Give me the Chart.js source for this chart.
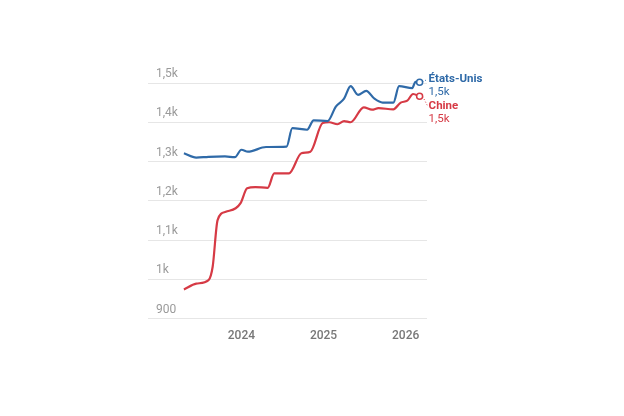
<!DOCTYPE html>
<html>
<head>
<meta charset="utf-8">
<script src="https://cdn.jsdelivr.net/npm/chart.js@4"></script>
<style>
  body { margin: 0; background: #fff; }
  #wrap { width: 624px; height: 416px; }
</style>
</head>
<body>
<div id="wrap"><canvas id="chart" width="624" height="416"></canvas></div>
<script>
// dates as decimal years
var usX = [2023.30, 2023.45, 2023.6, 2023.8, 2023.92, 2024.0, 2024.08, 2024.3, 2024.55, 2024.62, 2024.8, 2024.88, 2025.05, 2025.15, 2025.25, 2025.33, 2025.42, 2025.52, 2025.62, 2025.72, 2025.85, 2025.92, 2026.08, 2026.12, 2026.17];
var usY = [1321, 1310, 1312, 1313, 1311, 1330, 1325, 1337, 1338, 1385, 1381, 1405, 1403, 1440, 1460, 1492, 1470, 1480, 1460, 1450, 1450, 1492, 1487, 1503, 1502];
var cnX = [2023.30, 2023.45, 2023.6, 2023.65, 2023.71, 2023.81, 2023.93, 2023.99, 2024.07, 2024.17, 2024.32, 2024.4, 2024.58, 2024.73, 2024.84, 2024.99, 2025.07, 2025.17, 2025.25, 2025.33, 2025.49, 2025.59, 2025.67, 2025.85, 2025.94, 2026.02, 2026.09, 2026.17];
var cnY = [974, 989, 998, 1032, 1151, 1172, 1181, 1194, 1232, 1235, 1233, 1270, 1270, 1321, 1325, 1398, 1400, 1395, 1403, 1400, 1438, 1432, 1436, 1433, 1450, 1455, 1472, 1466];
var yTicks = [900, 1000, 1100, 1200, 1300, 1400, 1500];
var yTickLabels = ["900", "1k", "1,1k", "1,2k", "1,3k", "1,4k", "1,5k"];
var xTicks = [2024, 2025, 2026];

var blue = '#2f6aa8';
var red = '#d63a45';

function pts(xs, ys) {
  return xs.map(function (x, i) { return { x: x, y: ys[i] }; });
}

// y labels above the gridlines, end labels next to the last point
var labelPlugin = {
  id: 'labels',
  afterDatasetsDraw: function (chart) {
    var ctx = chart.ctx;
    var ys = chart.scales.y;
    var area = chart.chartArea;
    ctx.save();
    ctx.font = '12px Roboto';
    ctx.fillStyle = '#9a9a9a';
    ctx.textAlign = 'left';
    ctx.textBaseline = 'bottom';
    yTicks.forEach(function (v, i) {
      ctx.fillText(yTickLabels[i], area.left, ys.getPixelForValue(v) - 3);
    });

    var ends = [
      { ds: 0, name: 'États-Unis', val: '1,5k', color: blue, ty: 79 },
      { ds: 1, name: 'Chine', val: '1,5k', color: red, ty: 106 }
    ];
    ends.forEach(function (e) {
      var meta = chart.getDatasetMeta(e.ds);
      var p = meta.data[meta.data.length - 1];
      var tx = p.x + 9;
      ctx.strokeStyle = e.color;
      ctx.lineWidth = 1;
      ctx.setLineDash([1, 2]);
      ctx.beginPath();
      ctx.moveTo(p.x + 3, p.y);
      ctx.lineTo(tx - 1, e.ty);
      ctx.stroke();
      ctx.setLineDash([]);
      ctx.fillStyle = e.color;
      ctx.textBaseline = 'middle';
      ctx.font = 'bold 11.5px Roboto';
      ctx.fillText(e.name, tx, e.ty);
      ctx.font = '11.5px Roboto';
      ctx.fillText(e.val, tx, e.ty + 13);
    });
    ctx.restore();
  }
};

function lastOnly(ctx) {
  return ctx.dataIndex === ctx.dataset.data.length - 1 ? 3 : 0;
}

new Chart(document.getElementById('chart'), {
  type: 'line',
  data: {
    datasets: [
      { data: pts(usX, usY), borderColor: blue, borderWidth: 2.2, cubicInterpolationMode: 'monotone',
        pointRadius: lastOnly, pointBackgroundColor: '#fff', pointBorderColor: blue, pointBorderWidth: 1.5, clip: false },
      { data: pts(cnX, cnY), borderColor: red, borderWidth: 2.2, cubicInterpolationMode: 'monotone',
        pointRadius: lastOnly, pointBackgroundColor: '#fff', pointBorderColor: red, pointBorderWidth: 1.5, clip: false }
    ]
  },
  options: {
    responsive: false,
    animation: false,
    layout: { padding: { left: 148, right: 197, top: 83, bottom: 71 } },
    plugins: { legend: { display: false }, tooltip: { enabled: false } },
    scales: {
      x: {
        type: 'linear', min: 2022.96, max: 2026.26,
        afterBuildTicks: function (s) { s.ticks = xTicks.map(function (v) { return { value: v }; }); },
        grid: { display: false }, border: { display: false },
        ticks: { color: '#777', font: { family: 'Roboto', size: 12, weight: '500' }, padding: 2,
          callback: function (v) { return String(v); } }
      },
      y: {
        min: 900, max: 1500,
        afterBuildTicks: function (s) { s.ticks = yTicks.map(function (v) { return { value: v }; }); },
        grid: { color: '#e6e6e6', lineWidth: 1 }, border: { display: false },
        ticks: { display: false }
      }
    }
  },
  plugins: [labelPlugin]
});
</script>
</body>
</html>
